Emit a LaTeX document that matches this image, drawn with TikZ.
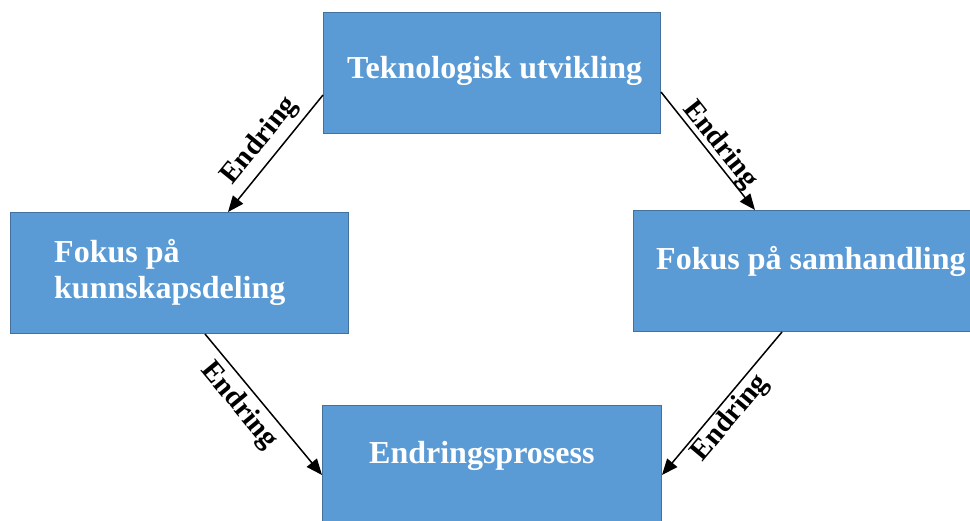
\documentclass[tikz,border=0pt]{standalone}
\usepackage{fontspec}
\setmainfont{Liberation Serif}
\usetikzlibrary{arrows.meta,calc}
\definecolor{boxfill}{HTML}{5B9BD5}
\definecolor{boxline}{HTML}{41719C}
\begin{document}
\begin{tikzpicture}[x=1pt,y=-1pt,
  box/.style={draw=boxline,fill=boxfill,line width=1pt,inner sep=0pt,anchor=north west},
  boxtext/.style={text=white,font=\fontsize{32}{37}\selectfont\bfseries,inner sep=0pt,anchor=base west},
  conn/.style={line width=1.5pt,-{Triangle[length=16pt,width=13pt]}},
  lab/.style={font=\fontsize{29}{30}\selectfont\bfseries,sloped,inner sep=2pt}]
\path[use as bounding box] (0,0) rectangle (970,521);
\clip (0,0) rectangle (970,521);
% boxes
\node[box,minimum width=337pt,minimum height=121pt] (t) at (323,12) {};
\node[box,minimum width=338pt,minimum height=121pt] (l) at (10,212) {};
\node[box,minimum width=340pt,minimum height=121pt] (r) at (633,210) {};
\node[box,minimum width=339pt,minimum height=130pt] (b) at (322,405) {};
% texts
\node[boxtext] (tt) at (347,79) {Teknologisk utvikling};
\node[boxtext] (lt1) at (54,263) {Fokus på};
\node[boxtext] (lt2) at (54,299) {kunnskapsdeling};
\node[boxtext] (rt) at (656,270) {Fokus på samhandling};
\node[boxtext] (bt) at (369,464) {Endringsprosess};
% connectors
\draw[conn] ($(t.north west)+(0,83)$) -- node[lab,above=4pt,pos=0.5] {Endring} ($(l.north west)+(218,0)$);
\draw[conn] ($(t.north east)+(0,80)$) -- node[lab,above=-3pt,pos=0.52] {Endring} ($(r.north west)+(122,0)$);
\draw[conn] ($(l.south west)+(195,0)$) -- node[lab,below=4pt,pos=0.42] {Endring} ($(b.north west)+(0,70)$);
\draw[conn] ($(r.south west)+(149,0)$) -- node[lab,below=0pt,pos=0.53] {Endring} ($(b.north east)+(0,70)$);
\end{tikzpicture}
\end{document}
